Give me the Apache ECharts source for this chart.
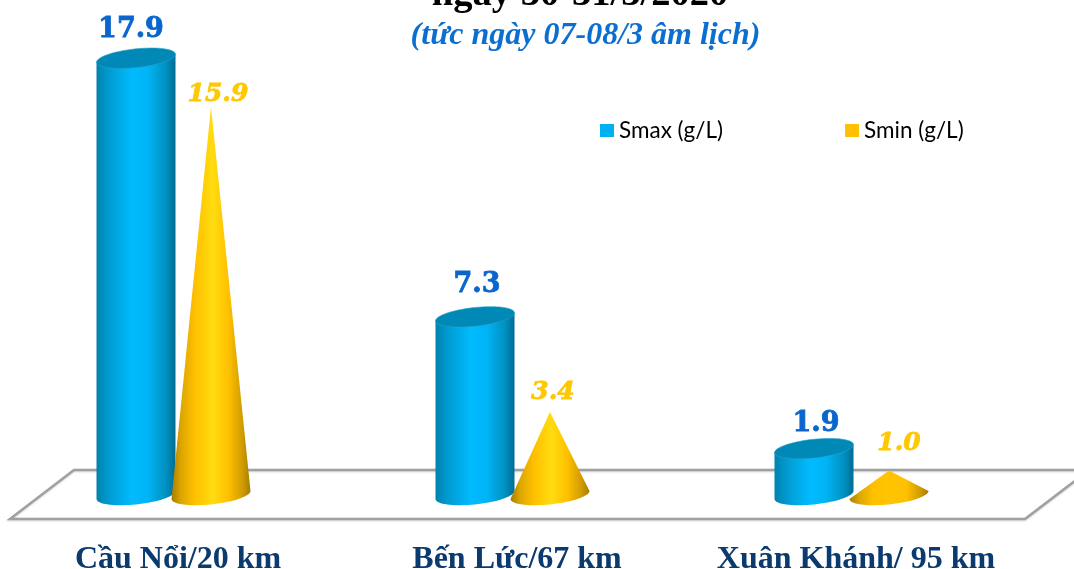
<!DOCTYPE html>
<html>
<head>
<meta charset="utf-8">
<style>
  html, body { margin: 0; padding: 0; background: #fff; }
  #chart { width: 1074px; height: 569px; }
</style>
</head>
<body>
<div id="chart"></div>
<script src="https://cdn.jsdelivr.net/npm/echarts@6/dist/echarts.min.js"></script>
<script>
const categories = ['Cầu Nổi/20 km', 'Bến Lức/67 km', 'Xuân Khánh/ 95 km'];
const smax = [17.9, 7.3, 1.9];
const smin = [15.9, 3.4, 1.0];

const chart = echarts.init(document.getElementById('chart'));

// nua be rong va do nghieng cua day tru/non
const RX = 39.5, RY = 9.4, SKEW = 4;

function ellipsePoint (cx, cy, t) {
  return [cx + RX * Math.cos(t), cy - SKEW * Math.cos(t) + RY * Math.sin(t)];
}
function lowerHalf (cx, cy) {
  const pts = [];
  for (let i = 0; i <= 36; i++) pts.push(ellipsePoint(cx, cy, Math.PI * i / 36));
  return pts;
}
function fullEllipse (cx, cy) {
  const pts = [];
  for (let i = 0; i < 72; i++) pts.push(ellipsePoint(cx, cy, Math.PI * i / 36));
  return pts;
}
function hGradient (stops) {
  return new echarts.graphic.LinearGradient(0, 0, 1, 0, stops.map(c => ({ offset: c[0], color: c[1] })));
}

const maxLabelNudge = [[-5, -28], [2, -32], [2, -25]];
const minLabelNudge = [[7, -13], [3, -20], [10, -27]];

function valueText (text, x, y, color, size, italic) {
  return {
    type: 'text',
    style: {
      text: text,
      x: x,
      y: y,
      align: 'center',
      verticalAlign: 'middle',
      fill: color,
      stroke: color,
      lineWidth: 0.8,
      fontFamily: 'DejaVu Serif',
      fontWeight: 'bold',
      fontStyle: italic ? 'italic' : 'normal',
      fontSize: size
    }
  };
}

function renderCylinder (params, api) {
  const i = api.value(0);
  const base = api.coord([i, 0]);
  const top = api.coord([i, api.value(1)]);
  const cx = base[0] - 42;
  const body = lowerHalf(cx, base[1]);
  body.push([cx - RX, top[1] + SKEW], [cx + RX, top[1] - SKEW]);
  const nudge = maxLabelNudge[i];
  return {
    type: 'group',
    children: [
      {
        type: 'polygon',
        shape: { points: body },
        style: {
          fill: hGradient([
            [0, '#0082ae'], [0.15, '#009ad0'], [0.45, '#00bbff'], [0.65, '#00b4f5'],
            [0.88, '#0090c2'], [1, '#006c93']
          ])
        }
      },
      {
        type: 'polygon',
        shape: { points: fullEllipse(cx, top[1]) },
        style: { fill: '#0088b6', stroke: '#2aa3cc', lineWidth: 0.6 }
      },
      valueText(api.value(1).toFixed(1), cx + nudge[0], top[1] + nudge[1], '#0a66cc', 27, false)
    ]
  };
}

function renderCone (params, api) {
  const i = api.value(0);
  const base = api.coord([i, 0]);
  const tip = api.coord([i, api.value(1)]);
  const cx = base[0] + 33;
  const outline = [[cx, tip[1]]].concat(lowerHalf(cx, base[1]));
  const nudge = minLabelNudge[i];
  // non thap gan nhu mau vang phang, khong co vet sang giua
  const glow = api.value(1) < 2 ? '#ffc400' : '#ffdc10';
  return {
    type: 'group',
    children: [
      {
        type: 'polygon',
        shape: { points: outline },
        style: {
          fill: hGradient([
            [0, '#a67d00'], [0.12, '#dca600'], [0.3, '#ffc000'], [0.52, glow],
            [0.72, '#ffc000'], [0.9, '#cf9b00'], [1, '#a67d00']
          ])
        }
      },
      valueText(api.value(1).toFixed(1), cx + nudge[0], tip[1] + nudge[1], '#ffc800', 25, true)
    ]
  };
}

chart.setOption({
  backgroundColor: '#fff',
  animation: false,
  title: [
    {
      text: 'ngày 30-31/3/2020',
      left: 580,
      top: -24,
      padding: 0,
      textAlign: 'center',
      textStyle: { fontFamily: 'Liberation Serif', fontWeight: 'bold', fontSize: 38.5, color: '#000' }
    },
    {
      text: '(tức ngày 07-08/3 âm lịch)',
      left: 585.5,
      top: 20,
      padding: 0,
      textAlign: 'center',
      textStyle: { fontFamily: 'Liberation Serif', fontWeight: 'bold', fontStyle: 'italic', fontSize: 32, color: '#0b6fd0' }
    }
  ],
  legend: {
    left: 600,
    top: 119,
    padding: 0,
    itemWidth: 14,
    itemHeight: 13,
    itemGap: 122,
    icon: 'rect',
    textStyle: { fontFamily: 'Lato', fontSize: 22.5, color: '#000' },
    data: ['Smax (g/L)', 'Smin (g/L)']
  },
  grid: { left: 8.5, width: 1017, top: 7, height: 488, outerBoundsMode: 'none' },
  xAxis: {
    type: 'category',
    data: categories,
    axisLine: { show: false },
    axisTick: { show: false },
    axisLabel: {
      interval: 0,
      margin: 49,
      fontFamily: 'Liberation Serif',
      fontWeight: 'bold',
      fontSize: 32,
      color: '#0a3a6e'
    }
  },
  yAxis: { type: 'value', min: 0, max: 20, show: false },
  graphic: [
    {
      type: 'polyline',
      z: 0,
      shape: { points: [[1080, 470], [74, 470], [10, 519], [1025, 519], [1080, 477]] },
      style: {
        fill: 'none',
        stroke: '#a0a0a0',
        lineWidth: 2.5,
        shadowColor: 'rgba(0,0,0,0.15)',
        shadowBlur: 2,
        shadowOffsetY: 1
      }
    }
  ],
  series: [
    {
      name: 'Smax (g/L)',
      type: 'custom',
      renderItem: renderCylinder,
      clip: false,
      itemStyle: { color: '#00b0f0' },
      encode: { x: 0, y: 1 },
      data: smax.map((v, i) => [i, v])
    },
    {
      name: 'Smin (g/L)',
      type: 'custom',
      renderItem: renderCone,
      clip: false,
      itemStyle: { color: '#ffc000' },
      encode: { x: 0, y: 1 },
      data: smin.map((v, i) => [i, v])
    }
  ]
});
</script>
</body>
</html>
